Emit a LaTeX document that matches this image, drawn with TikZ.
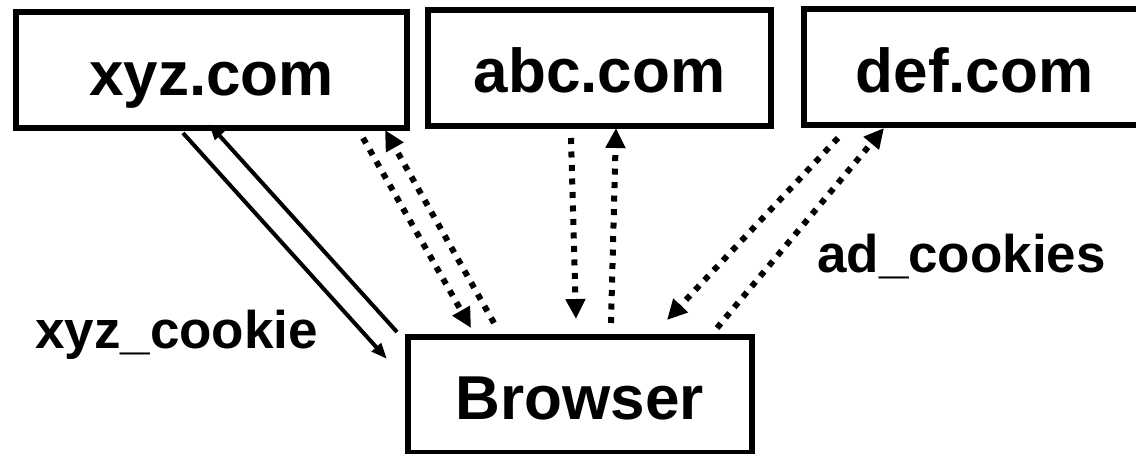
\documentclass[tikz,border=0pt]{standalone}
\usepackage{fontspec}
\setmainfont{Liberation Sans}
\usetikzlibrary{arrows.meta}
\begin{document}
\begin{tikzpicture}[x=1pt,y=-1pt,
  site/.style={draw,line width=6pt,inner sep=0pt,minimum width=#1,minimum height=116pt,
    font=\fontsize{62}{70}\selectfont\bfseries,text height=50pt,text depth=0pt},
  lbl/.style={inner sep=0pt,anchor=base west,font=\fontsize{53}{60}\selectfont\bfseries},
  solidarrow/.style={line width=4pt,-{Triangle[length=16pt,width=12pt]}},
  dotarrow/.style={line width=6pt,dash pattern=on 6pt off 7.5pt,-{Triangle[length=20pt,width=19pt]}}
]
\useasboundingbox (0,0) rectangle (1136,453);
\clip (0,0) rectangle (1136,453);

\node[site=391pt] (xyz) at (211.5,70) {xyz.com};
\node[site=343pt] (abc) at (599.5,67.5) {abc.com};
\node[site=341pt] (def) at (974.5,67) {def.com};
\node[site=343.5pt] (br) at (579.75,394.5) {Browser};

\node[lbl] (xc) at (35,348) {xyz\_cookie};
\node[lbl] (ac) at (817,272) {ad\_cookies};

% solid connectors
\coordinate (s1a) at (183,133);  \coordinate (s1b) at (387,359);
\coordinate (s2a) at (397,332);  \coordinate (s2b) at (209,124);
\draw[solidarrow] (s1a) -- (s1b);
\draw[solidarrow] (s2a) -- (s2b);

% dotted connectors
\coordinate (d1a) at (363,138);  \coordinate (d1b) at (471,328);
\coordinate (d2a) at (494,323);  \coordinate (d2b) at (385,130);
\coordinate (d3a) at (571,138);  \coordinate (d3b) at (576,319);
\coordinate (d4a) at (611,323);  \coordinate (d4b) at (616,128);
\coordinate (d5a) at (838,138);  \coordinate (d5b) at (667,320);
\coordinate (d6a) at (717,328);  \coordinate (d6b) at (884,128);
\draw[dotarrow] (d1a) -- (d1b);
\draw[dotarrow] (d2a) -- (d2b);
\draw[dotarrow] (d3a) -- (d3b);
\draw[dotarrow] (d4a) -- (d4b);
\draw[dotarrow] (d5a) -- (d5b);
\draw[dotarrow] (d6a) -- (d6b);
\end{tikzpicture}
\end{document}
